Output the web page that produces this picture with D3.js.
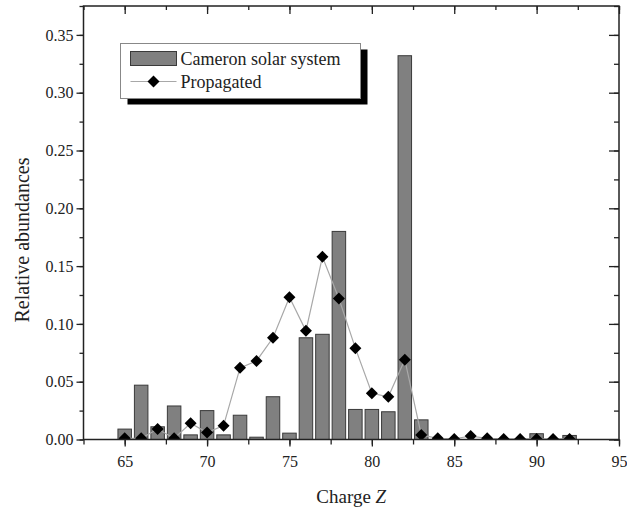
<!DOCTYPE html>
<html>
<head>
<meta charset="utf-8">
<script src="https://cdn.jsdelivr.net/npm/d3@7"></script>
<style>
  body { margin: 0; background: #fff; }
  text { font-family: "Liberation Serif", "Times New Roman", serif; fill: #222; }
</style>
</head>
<body>
<div id="chart"></div>
<script>
// charge Z for each entry
const charges = [65, 66, 67, 68, 69, 70, 71, 72, 73, 74, 75, 76, 77, 78,
  79, 80, 81, 82, 83, 84, 85, 86, 87, 88, 89, 90, 91, 92];
// Cameron solar system abundances (bars)
const cameron = [0.009, 0.047, 0.011, 0.029, 0.004, 0.025, 0.004, 0.021, 0.002, 0.037,
  0.0055, 0.088, 0.091, 0.180, 0.026, 0.026, 0.024, 0.332, 0.017, 0, 0, 0, 0, 0, 0,
  0.005, 0, 0.0035];
// propagated abundances (diamonds)
const propagated = [0.001, 0.001, 0.009, 0.001, 0.014, 0.006, 0.012, 0.062, 0.068, 0.088,
  0.123, 0.094, 0.158, 0.122, 0.079, 0.040, 0.037, 0.069, 0.004, 0.001, 0.0005, 0.003,
  0.001, 0.0005, 0.0005, 0.0005, 0.0005, 0.0005];
const xTicks = [65, 70, 75, 80, 85, 90, 95];
const yTicks = [0, 0.05, 0.10, 0.15, 0.20, 0.25, 0.30, 0.35];

const width = 627, height = 512;
const margin = {top: 6, right: 8, bottom: 72.5, left: 83.5};
const iw = width - margin.left - margin.right;
const ih = height - margin.top - margin.bottom;

const svg = d3.select("#chart").append("svg")
  .attr("width", width)
  .attr("height", height);

const x = d3.scaleLinear().domain([62.5, 95]).range([0, iw]);
const y = d3.scaleLinear().domain([0, 0.375]).range([ih, 0]);

const g = svg.append("g").attr("transform", `translate(${margin.left},${margin.top})`);

g.append("clipPath").attr("id", "plotclip")
  .append("rect").attr("width", iw).attr("height", ih);

const plot = g.append("g").attr("clip-path", "url(#plotclip)");

const rows = charges.map((z, i) => ({z: z, c: cameron[i], p: propagated[i]}));
const bw = x(65.41) - x(64.59);

plot.selectAll("rect.bar")
  .data(rows.filter(d => d.c > 0))
  .enter().append("rect")
  .attr("class", "bar")
  .attr("x", d => x(d.z) - bw / 2)
  .attr("y", d => y(d.c))
  .attr("width", bw)
  .attr("height", d => y(0) - y(d.c))
  .attr("fill", "#808080")
  .attr("stroke", "#3a3a3a")
  .attr("stroke-width", 1);

const line = d3.line().x(d => x(d.z)).y(d => y(d.p));
plot.append("path")
  .datum(rows)
  .attr("d", line)
  .attr("fill", "none")
  .attr("stroke", "#a8a8a8")
  .attr("stroke-width", 1.2);

const diamond = d3.symbol().type(d3.symbolSquare).size(72);
plot.selectAll("path.pt")
  .data(rows)
  .enter().append("path")
  .attr("class", "pt")
  .attr("d", diamond)
  .attr("transform", d => `translate(${x(d.z)},${y(d.p)}) rotate(45)`)
  .attr("fill", "#000");

// axes
const xMinor = d3.range(62.5, 95.01, 2.5);
const yMinor = d3.range(0, 0.3751, 0.025);

function styleAxis(sel) {
  sel.select(".domain").remove();
  sel.selectAll("line").attr("stroke", "#222").attr("stroke-width", 1.3);
  sel.selectAll("text").style("font-size", "16px").attr("fill", "#333");
}

g.append("g").attr("transform", `translate(0,${ih})`)
  .call(d3.axisBottom(x).tickValues(xMinor).tickSize(5).tickFormat(""))
  .call(styleAxis);
g.append("g").attr("transform", `translate(0,${ih})`)
  .call(d3.axisBottom(x).tickValues(xTicks).tickSize(7).tickPadding(9).tickFormat(d3.format("d")))
  .call(styleAxis);
g.append("g")
  .call(d3.axisLeft(y).tickValues(yMinor).tickSize(4).tickFormat(""))
  .call(styleAxis);
g.append("g")
  .call(d3.axisLeft(y).tickValues(yTicks).tickSize(7).tickPadding(3).tickFormat(d3.format(".2f")))
  .call(styleAxis);
g.append("g")
  .call(d3.axisTop(x).tickValues(xMinor).tickSize(-4).tickFormat(""))
  .call(styleAxis);
g.append("g")
  .call(d3.axisTop(x).tickValues(xTicks).tickSize(-8).tickFormat(""))
  .call(styleAxis);
g.append("g").attr("transform", `translate(${iw},0)`)
  .call(d3.axisRight(y).tickValues(yMinor).tickSize(-5).tickFormat(""))
  .call(styleAxis);
g.append("g").attr("transform", `translate(${iw},0)`)
  .call(d3.axisRight(y).tickValues(yTicks).tickSize(-10).tickFormat(""))
  .call(styleAxis);

g.append("rect")
  .attr("width", iw).attr("height", ih)
  .attr("fill", "none")
  .attr("stroke", "#222")
  .attr("stroke-width", 1.5);

// axis titles
const xt = svg.append("text")
  .attr("x", margin.left + iw / 2)
  .attr("y", 503)
  .attr("text-anchor", "middle")
  .style("font-size", "19px");
xt.append("tspan").text("Charge ");
xt.append("tspan").style("font-style", "italic").text("Z");

svg.append("text")
  .attr("transform", "translate(29,240) rotate(-90)")
  .attr("text-anchor", "middle")
  .style("font-size", "20px")
  .text("Relative abundances");

// legend
const lg = svg.append("g").attr("transform", "translate(120.5,43.5)");
lg.append("rect").attr("x", 7).attr("y", 6).attr("width", 240).attr("height", 55).attr("fill", "#000");
lg.append("rect").attr("width", 240).attr("height", 55)
  .attr("fill", "#fff").attr("stroke", "#888").attr("stroke-width", 1);
lg.append("rect").attr("x", 10).attr("y", 8).attr("width", 46).attr("height", 14)
  .attr("fill", "#808080").attr("stroke", "#3a3a3a");
lg.append("text").attr("x", 60).attr("y", 21).style("font-size", "18px").text("Cameron solar system");
lg.append("line").attr("x1", 10).attr("x2", 56).attr("y1", 38).attr("y2", 38)
  .attr("stroke", "#a8a8a8").attr("stroke-width", 1.2);
lg.append("path").attr("d", diamond).attr("transform", "translate(33,38) rotate(45)").attr("fill", "#000");
lg.append("text").attr("x", 60).attr("y", 44).style("font-size", "18px").text("Propagated");
</script>
</body>
</html>
